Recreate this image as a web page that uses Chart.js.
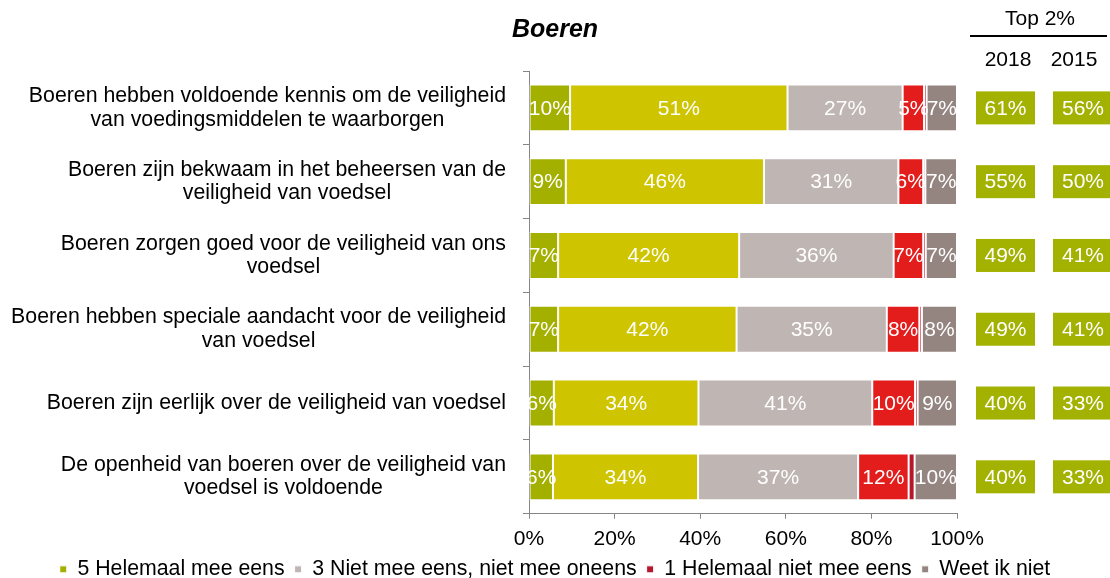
<!DOCTYPE html>
<html>
<head>
<meta charset="utf-8">
<script src="https://cdn.jsdelivr.net/npm/chart.js@4/dist/chart.umd.min.js"></script>
<style>
  html, body { margin: 0; padding: 0; background: #fff; overflow: hidden; }
  #wrap { width: 1110px; height: 590px; }
</style>
</head>
<body>
<div id="wrap"><canvas id="chart" width="1110" height="590"></canvas></div>
<script>
const statements = [
  ["Boeren hebben voldoende kennis om de veiligheid", "van voedingsmiddelen te waarborgen"],
  ["Boeren zijn bekwaam in het beheersen van de", "veiligheid van voedsel"],
  ["Boeren zorgen goed voor de veiligheid van ons", "voedsel"],
  ["Boeren hebben speciale aandacht voor de veiligheid", "van voedsel"],
  ["Boeren zijn eerlijk over de veiligheid van voedsel"],
  ["De openheid van boeren over de veiligheid van", "voedsel is voldoende"],
];

// percentages per answer
const helemaalMeeEens = [9.6, 8.6, 6.8, 6.8, 5.8, 5.6];
const meeEens = [50.8, 46.3, 42.3, 41.7, 33.8, 33.9];
const neutraal = [26.9, 31.4, 36.1, 35.1, 40.6, 37.4];
const nietMeeEens = [5.0, 5.8, 6.9, 7.6, 10.0, 11.8];
const helemaalNietMeeEens = [0.6, 0.5, 0.6, 0.6, 0.6, 1.4];
const weetIkNiet = [7.1, 7.4, 7.3, 8.2, 9.2, 9.9];

// top 2 boxes
const top2018 = [61, 55, 49, 49, 40, 40];
const top2015 = [56, 50, 41, 41, 33, 33];

const xTicks = [0, 20, 40, 60, 80, 100];
const hiddenInLegend = ["4 Mee eens", "2 Niet mee eens"];

const FONT = '"Liberation Sans", Arial, sans-serif';
const AXIS = "#868686";
const TOP_GREEN = "#a3b100";

Chart.defaults.font.family = FONT;
Chart.defaults.font.size = 21;
Chart.defaults.color = "#000";

const extras = {
  id: "extras",
  afterDatasetsDraw(chart) {
    const ctx = chart.ctx;
    const area = chart.chartArea;
    ctx.save();
    // labels may spill over the left edge but are cut at the right one
    ctx.beginPath();
    ctx.rect(0, area.top, area.right, area.bottom - area.top);
    ctx.clip();
    ctx.font = "21px " + FONT;
    ctx.fillStyle = "#fff";
    ctx.textAlign = "center";
    ctx.textBaseline = "middle";
    chart.data.datasets.forEach((ds, i) => {
      chart.getDatasetMeta(i).data.forEach((bar, j) => {
        const v = ds.data[j];
        if (v < 2) return;
        ctx.fillText(Math.round(v) + "%", (bar.x + bar.base) / 2, bar.y + 1);
      });
    });
    ctx.restore();
  },
  afterDraw(chart) {
    const ctx = chart.ctx;
    const y = chart.scales.y;
    ctx.save();
    ctx.textBaseline = "middle";
    ctx.textAlign = "center";

    // statement labels: block right aligned, lines centered in it
    ctx.font = "21.3px " + FONT;
    statements.forEach((lines, i) => {
      const w = Math.max(...lines.map((l) => ctx.measureText(l).width));
      const cx = y.right - 23 - w / 2;
      const cy = y.getPixelForValue(i);
      ctx.fillStyle = "#000";
      lines.forEach((l, k) => {
        ctx.fillText(l, cx, cy + (k - (lines.length - 1) / 2) * 23.5);
      });
    });

    // Top 2% header
    ctx.font = "21px " + FONT;
    ctx.fillStyle = "#000";
    ctx.fillText("Top 2%", 1040, 19);
    ctx.fillText("2018", 1008, 60);
    ctx.fillText("2015", 1074, 60);
    ctx.strokeStyle = "#000";
    ctx.lineWidth = 2;
    ctx.beginPath();
    ctx.moveTo(970, 36);
    ctx.lineTo(1107, 36);
    ctx.stroke();

    // Top 2% boxes
    top2018.forEach((v, i) => {
      const cy = y.getPixelForValue(i);
      ctx.fillStyle = TOP_GREEN;
      ctx.fillRect(976, cy - 16.5, 59, 33);
      ctx.fillRect(1053, cy - 16.5, 59, 33);
      ctx.fillStyle = "#fff";
      ctx.fillText(v + "%", 1005.5, cy + 1);
      ctx.fillText(top2015[i] + "%", 1083, cy + 1);
    });
    ctx.restore();
  },
};

function barSet(label, data, color) {
  return {
    label: label,
    data: data,
    backgroundColor: color,
    borderColor: "#fff",
    borderWidth: 1,
    borderSkipped: false,
    barPercentage: 0.635,
    categoryPercentage: 1,
  };
}

new Chart(document.getElementById("chart"), {
  type: "bar",
  data: {
    labels: statements,
    datasets: [
      barSet("5 Helemaal mee eens", helemaalMeeEens, "#a3b000"),
      barSet("4 Mee eens", meeEens, "#cec400"),
      barSet("3 Niet mee eens, niet mee oneens", neutraal, "#bfb5b2"),
      barSet("2 Niet mee eens", nietMeeEens, "#e31c1c"),
      barSet("1 Helemaal niet mee eens", helemaalNietMeeEens, "#b5172b"),
      barSet("Weet ik niet", weetIkNiet, "#948581"),
    ],
  },
  options: {
    indexAxis: "y",
    responsive: false,
    animation: false,
    layout: { padding: 0 },
    scales: {
      x: {
        stacked: true,
        min: 0,
        max: 100,
        afterBuildTicks: (s) => {
          s.ticks = xTicks.map((v) => ({ value: v }));
        },
        afterFit: (s) => {
          s.height = 35;
        },
        ticks: {
          padding: 10.5,
          font: { size: 21, lineHeight: 1 },
          callback: (v) => v + "%",
        },
        grid: { drawOnChartArea: false, tickLength: 5, color: AXIS },
        border: { color: AXIS },
      },
      y: {
        stacked: true,
        ticks: { callback: () => "" },
        grid: { drawOnChartArea: false, tickLength: 6, color: AXIS, offset: true },
        border: { color: AXIS },
        afterFit: (s) => {
          s.width = 529;
        },
      },
      yRight: {
        type: "linear",
        position: "right",
        grid: { display: false },
        border: { display: false },
        ticks: { display: false },
        afterFit: (s) => {
          s.width = 153;
        },
      },
    },
    plugins: {
      title: {
        display: true,
        text: "Boeren",
        color: "#000",
        font: { size: 25, weight: "bold", style: "italic" },
        padding: { top: 15, bottom: 26 },
      },
      legend: {
        position: "bottom",
        labels: {
          boxWidth: 7,
          boxHeight: 7,
          padding: 10,
          color: "#000",
          font: { size: 21.3 },
          filter: (item) => !hiddenInLegend.includes(item.text),
        },
      },
      tooltip: { enabled: false },
    },
  },
  plugins: [extras],
});
</script>
</body>
</html>
